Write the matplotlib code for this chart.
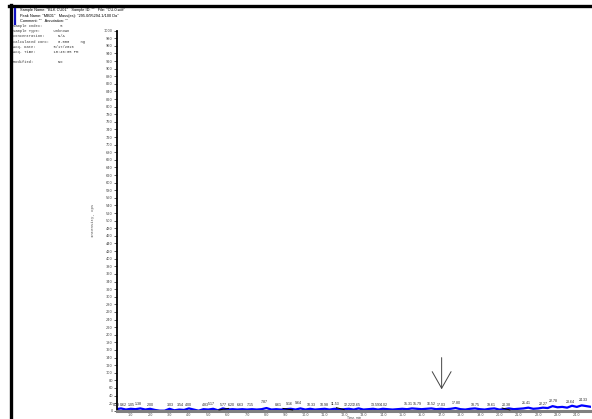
import matplotlib
matplotlib.use("Agg")
import matplotlib.pyplot as plt
import numpy as np

# ---- data ----
times = [0.25, 0.5, 0.75, 1.0, 1.25, 1.5, 1.75, 2.0, 2.25, 2.5, 2.75, 3.0, 3.25, 3.5, 3.75,
         4.0, 4.25, 4.5, 4.75, 5.0, 5.25, 5.5, 5.75, 6.0, 6.25, 6.5, 6.75, 7.0, 7.25, 7.5,
         7.75, 8.0, 8.25, 8.5, 8.75, 9.0, 9.25, 9.5, 9.75, 10.0, 10.25, 10.5, 10.75, 11.0,
         11.25, 11.5, 11.75, 12.0, 12.25, 12.5, 12.75, 13.0, 13.25, 13.5, 13.75, 14.0, 14.25,
         14.5, 14.75, 15.0, 15.25, 15.5, 15.75, 16.0, 16.25, 16.5, 16.75, 17.0, 17.25, 17.5,
         17.75, 18.0, 18.25, 18.5, 18.75, 19.0, 19.25, 19.5, 19.75, 20.0, 20.25, 20.5, 20.75,
         21.0, 21.25, 21.5, 21.75, 22.0, 22.25, 22.5, 22.75, 23.0, 23.25, 23.5, 23.75, 24.0,
         24.25, 24.5, 24.75]
intensity = [4, 6, 3, 5, 4, 6, 3, 5, 2, 0, 0, 5, 1, 3, 2,
             6, 3, 0, 4, 3, 5, 1, 6, 3, 4, 3, 4, 3, 4, 3,
             4, 7, 3, 4, 3, 4, 5, 3, 6, 3, 5, 3, 4, 5,
             3, 5, 3, 4, 5, 3, 6, 3, 4, 5, 3, 5, 4,
             3, 4, 5, 4, 6, 5, 4, 5, 6, 4, 5, 4, 5,
             7, 4, 3, 5, 6, 4, 3, 5, 6, 3, 4, 6, 4,
             5, 6, 8, 5, 6, 8, 7, 12, 9, 10, 8, 13, 10,
             14, 12, 10]

peak_times = [0.28, 0.62, 1.05, 1.38, 2.00, 3.03, 3.54, 4.00, 4.83, 5.17, 5.77, 6.20, 6.63,
              7.15, 7.87, 8.61, 9.16, 9.64, 10.33, 10.98, 11.53, 12.22, 12.65, 13.59, 14.02,
              15.31, 15.79, 16.52, 17.03, 17.80, 18.75, 19.61, 20.38, 21.41, 22.27, 22.78,
              23.64, 24.33]
peak_heights = [10, 11, 9, 12, 9, 10, 9, 10, 10, 12, 10, 9, 9,
                11, 18, 9, 12, 14, 11, 10, 12, 10, 10, 10, 10,
                12, 12, 12, 11, 14, 11, 11, 9, 15, 13, 20,
                18, 22]

baseline_start = [5.55, 8.85, 11.6, 20.15]
baseline_end = [6.05, 9.35, 12.0, 20.55]
baseline_y0 = [2, 6, 8, 7]
baseline_y1 = [6, 2, 3, 2]

yticks = list(range(0, 1001, 20))
xticks = list(range(1, 25))

header_lines = ['Sample Name: "BLK CU01"   Sample ID: ""   File: "CU-0.wiff"',
                'Peak Name: "MB01"   Mass(es): "295.0/95294.1/100 Da"',
                'Comment: ""   Annotation: ""']
info_lines = ['Sample Index:        5',
              'Sample Type:      Unknown',
              'Concentration:      N/A',
              'Calculated Conc:    0.000     ng',
              'Acq. Date:        5/17/2016',
              'Acq. Time:        10:46:05 PM',
              '',
              'Modified:           No']

# ---- figure ----
W, H = 592, 419
fig = plt.figure(figsize=(W / 100, H / 100), dpi=100)

def fx(px):
    return px / W

def fy(py):
    return 1 - py / H

# frame decorations
fig.add_artist(plt.Line2D([fx(9), fx(592)], [fy(6.5), fy(6.5)], color="black", lw=2.4))
fig.add_artist(plt.Line2D([fx(10.5), fx(10.5)], [fy(5), fy(419)], color="black", lw=2.4))
fig.add_artist(plt.Line2D([fx(15), fx(15)], [fy(9), fy(24)], color="#1010c0", lw=1.6))

for i, line in enumerate(header_lines):
    fig.text(fx(20), fy(10.5 + 5 * i), line, fontsize=2.8, family="Liberation Sans",
             va="center", ha="left")
for i, line in enumerate(info_lines):
    fig.text(fx(13), fy(26 + 5.2 * i), line, fontsize=2.7, family="Liberation Mono",
             va="center", ha="left", color="#333333")

ax = fig.add_axes([fx(117), fy(410.7), fx(591) - fx(117), fy(30.7) - fy(410.7)])
ax.set_xlim(0.294, 24.73)
ax.set_ylim(0, 1000)

ax.plot(times, intensity, color="#0000ff", lw=1.6, zorder=2)
for s, e, a, b in zip(baseline_start, baseline_end, baseline_y0, baseline_y1):
    ax.plot([s, e], [a, b], color="black", lw=0.7, zorder=3)

for t, h in zip(peak_times, peak_heights):
    ax.text(t, h, f"{t:.2f}", fontsize=2.6, ha="center", va="bottom", color="#222222",
            family="Liberation Sans")

ax.annotate("", xy=(17.03, 49), xytext=(17.03, 147),
            arrowprops=dict(arrowstyle="->,head_length=1.2,head_width=0.68",
                            color="#444444", lw=0.7))

for side in ["top", "right"]:
    ax.spines[side].set_visible(False)
ax.spines["left"].set_linewidth(1.3)
ax.spines["bottom"].set_color("#808080")
ax.spines["bottom"].set_linewidth(2.2)

ax.set_yticks(yticks)
ax.set_yticklabels([str(v) for v in yticks])
ax.set_xticks(xticks)
ax.set_xticklabels([f"{v:.1f}" for v in xticks])
ax.tick_params(axis="y", labelsize=2.5, length=2, width=0.6, pad=1, colors="#444444")
ax.tick_params(axis="x", labelsize=2.4, length=1.0, width=0.6, pad=0.3, colors="#444444")

ax.set_ylabel("Intensity, cps", fontsize=2.8, family="Liberation Mono", color="#444444")
ax.yaxis.set_label_coords((95 - 117) / 474, 0.5)
ax.set_xlabel("Time, min", fontsize=2.3, family="Liberation Sans", color="#444444")
ax.xaxis.label.set_va("center")
ax.xaxis.set_label_coords((354 - 117) / 474, -(417.4 - 410.7) / 380)

fig.savefig("out.png", dpi=100)
